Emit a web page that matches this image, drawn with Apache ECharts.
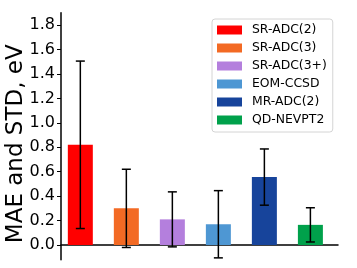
<!DOCTYPE html>
<html>
<head>
<meta charset="utf-8">
<script src="https://cdn.jsdelivr.net/npm/echarts@6/dist/echarts.min.js"></script>
<style>
html,body{margin:0;padding:0;background:#fff;}
#chart{width:357px;height:268px;}
</style>
</head>
<body>
<div id="chart"></div>
<script>
const categories = ['SR-ADC(2)', 'SR-ADC(3)', 'SR-ADC(3+)', 'EOM-CCSD', 'MR-ADC(2)', 'QD-NEVPT2'];
const mae = [0.82, 0.30, 0.21, 0.17, 0.556, 0.165];
const std = [0.685, 0.32, 0.225, 0.275, 0.23, 0.14];
const colors = ['#FF0000', '#F36A24', '#B47FDD', '#4E97D3', '#17449B', '#00A14B'];
const yTicks = [0, 0.2, 0.4, 0.6, 0.8, 1.0, 1.2, 1.4, 1.6, 1.8];

const FONT = 'DejaVu Sans';
const chart = echarts.init(document.getElementById('chart'));

const barSeries = categories.map((name, i) => ({
  name: name,
  type: 'bar',
  barWidth: 25,
  barGap: '-100%',
  data: [[i, mae[i]]],
  itemStyle: { color: colors[i] },
  z: 2
}));

const errData = categories.map((_, i) => [i, mae[i] - std[i], mae[i] + std[i]]);

const errSeries = {
  type: 'custom',
  data: errData,
  z: 5,
  silent: true,
  renderItem: function (params, api) {
    const x = api.value(0);
    const lo = api.coord([x, api.value(1)]);
    const hi = api.coord([x, api.value(2)]);
    const hw = 4.5;
    const style = { stroke: '#000', lineWidth: 1.5, fill: null };
    return {
      type: 'group',
      children: [
        { type: 'line', shape: { x1: lo[0], y1: lo[1], x2: hi[0], y2: hi[1] }, style: style },
        { type: 'line', shape: { x1: hi[0] - hw, y1: hi[1], x2: hi[0] + hw, y2: hi[1] }, style: style },
        { type: 'line', shape: { x1: lo[0] - hw, y1: lo[1], x2: lo[0] + hw, y2: lo[1] }, style: style }
      ]
    };
  }
};

chart.setOption({
  animation: false,
  textStyle: { fontFamily: FONT },
  grid: { left: 61, right: 19, top: 12.8, bottom: 8.3, containLabel: false, outerBoundsMode: 'none' },
  legend: {
    data: categories,
    orient: 'vertical',
    left: 212,
    top: 19,
    icon: 'rect',
    itemWidth: 25,
    itemHeight: 9,
    itemGap: 4,
    padding: [4, 6, 5, 5],
    backgroundColor: '#fff',
    borderColor: '#d4d4d4',
    borderWidth: 1,
    borderRadius: 3,
    textStyle: { fontFamily: FONT, fontSize: 12.4, color: '#000', lineHeight: 14, padding: [0, 0, 0, 5] }
  },
  xAxis: {
    type: 'value',
    min: -0.42,
    max: 5.6,
    axisLine: { show: true, onZero: true, lineStyle: { color: '#000', width: 1.5 } },
    axisTick: { show: false },
    axisLabel: { show: false },
    splitLine: { show: false }
  },
  yAxis: {
    type: 'value',
    min: -0.12,
    max: 1.9,
    name: 'MAE and STD, eV',
    nameLocation: 'middle',
    nameGap: 33,
    nameMoveOverlap: false,
    nameTextStyle: { fontFamily: FONT, fontSize: 23, color: '#000', padding: [0, 15, 0, 0] },
    axisLine: { show: true, onZero: false, lineStyle: { color: '#000', width: 1.5 } },
    axisTick: { show: true, length: 4, customValues: yTicks, lineStyle: { color: '#000', width: 1 } },
    axisLabel: {
      customValues: yTicks,
      margin: 6,
      fontFamily: FONT,
      fontSize: 16,
      color: '#000',
      formatter: v => v.toFixed(1)
    },
    splitLine: { show: false }
  },
  series: barSeries.concat([errSeries])
});
</script>
</body>
</html>
